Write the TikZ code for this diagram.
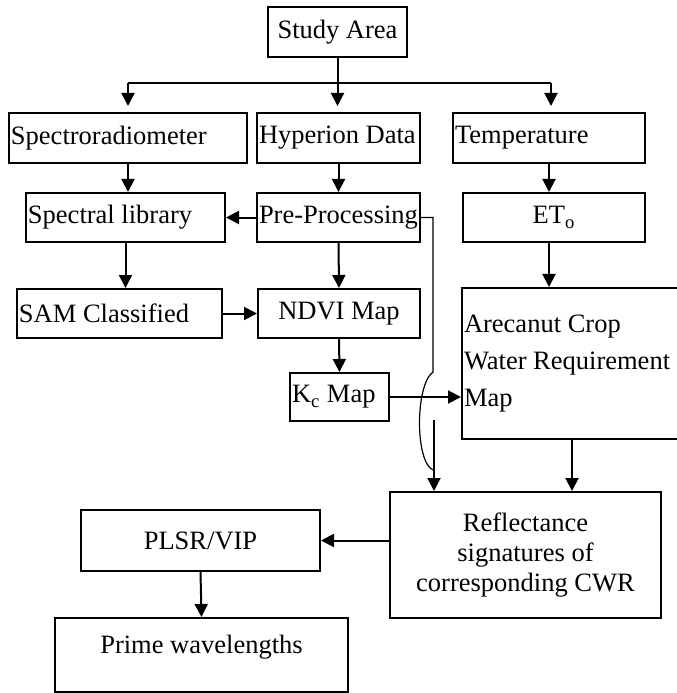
\documentclass[tikz,border=0pt]{standalone}
\usepackage{fontspec}
\setmainfont{Liberation Serif}
\usetikzlibrary{positioning,arrows.meta}

\begin{document}
\begin{tikzpicture}[
  x=0.5bp, y=-0.5bp,
  box/.style={draw, line width=1bp, inner sep=1.5bp, font=\fontsize{13.25bp}{15bp}\selectfont},
  lbox/.style={box, align=flush left, inner xsep=1bp, minimum height=25bp},
  cbox/.style={box, align=center},
  arr/.style={line width=1bp, -{Triangle[length=6.5bp,width=6.5bp]}},
  feed/.style={line width=0.6bp}
]
\clip (0,0) rectangle (677,693);

\node[cbox, minimum width=69.5bp, minimum height=25bp] (study) at (337.5,32) {Study Area};

\node[lbox, text width=117bp] (spectro) at (128,138) {Spectroradiometer};
\node[lbox, text width=79.5bp] (hyperion) at (338.5,138) {Hyperion Data};
\node[lbox, text width=94bp] (temp) at (549,138) {Temperature};

\node[lbox, text width=97.5bp, minimum height=24.5bp] (speclib) at (125.5,217.5) {Spectral library};
\node[lbox, text width=79.5bp, minimum height=24.5bp] (preproc) at (338.5,217.5) {Pre-Processing};
\node[cbox, minimum width=91bp, minimum height=24.5bp] (eto) at (554,217.5) {ET\textsubscript{o}};

\node[lbox, text width=100.5bp, minimum height=24.5bp] (sam) at (119.5,313.5) {SAM Classified};
\node[cbox, minimum width=81bp, minimum height=24.5bp] (ndvi) at (339,313.5) {NDVI Map};
\node[lbox, text width=108bp, minimum height=75.5bp, font=\fontsize{13.25bp}{18.5bp}\selectfont] (arecanut) at (572,363.5) {Arecanut Crop\\Water Requirement\\Map};

\node[lbox, text width=47.5bp, minimum height=24bp] (kc) at (339.5,397) {K\textsubscript{c} Map};

\node[cbox, minimum width=135.5bp, minimum height=63bp] (refl) at (525.5,555) {Reflectance\\signatures of\\corresponding CWR};
\node[cbox, minimum width=119.5bp, minimum height=30.5bp] (plsr) at (200.5,540.5) {PLSR/VIP};
\node[cbox, minimum width=146.5bp, minimum height=37bp, text height=10bp, text depth=12bp] (prime) at (201.5,655) {Prime wavelengths};

% bus from the study area
\coordinate (busL) at (128,83);
\coordinate (busR) at (551,83);
\draw[line width=1bp] (study.south) -- (study.south |- busL);
\draw[line width=1bp] (busL) -- (busR);
\draw[arr, shorten >=3bp] (busL) -- (busL |- spectro.north);
\draw[arr, shorten >=3bp] (study.south |- busL) -- (study.south |- hyperion.north);
\draw[arr, shorten >=3bp] (busR) -- (busR |- temp.north);

\draw[arr] (spectro.south) -- (spectro.south |- speclib.north);
\draw[arr] (hyperion.south) -- (preproc.north);
\draw[arr] (temp.south) -- (temp.south |- eto.north);
\draw[arr] (preproc.west) -- (speclib.east);
\draw[arr] (speclib.south) -- (speclib.south |- sam.north);
\draw[arr] (preproc.south) -- (ndvi.north);
\draw[arr] (temp.south |- eto.south) -- (temp.south |- arecanut.north);
\draw[arr] (sam.east) -- (ndvi.west);
\draw[arr] (ndvi.south) -- (kc.north);
\draw[arr] (kc.east) -- (kc.east -| arecanut.west);
\draw[arr] (arecanut.south) -- (arecanut.south |- refl.north);
\draw[arr] (plsr.east -| refl.west) -- (plsr.east);
\draw[arr] (plsr.south) -- (prime.north);

% pre-processing feed, hopping over the Kc arrow
\coordinate (hopA) at (433,372);
\coordinate (hopB) at (433,470);
\coordinate (drop) at (434,420);
\draw[feed] (preproc.east) -| (hopA) .. controls (415,385) and (415,462) .. (hopB);
\draw[arr] (drop) -- (drop |- refl.north);
\end{tikzpicture}
\end{document}
